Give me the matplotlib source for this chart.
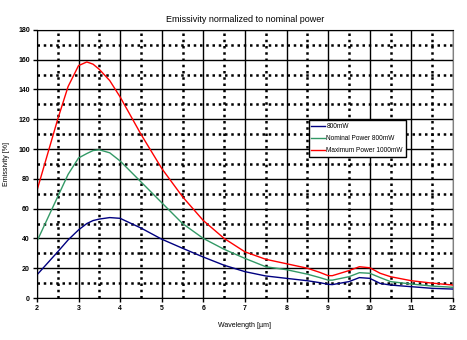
import numpy as np
import matplotlib.pyplot as plt
from matplotlib.ticker import MultipleLocator

plt.rcParams['font.family'] = ['Liberation Sans', 'DejaVu Sans']

# wavelength in um
wavelength = [2, 2.5, 2.75, 3, 3.2, 3.35, 3.5, 3.75, 4, 4.5, 5, 5.5, 6, 6.5, 7, 7.5, 8,
              8.5, 8.8, 9, 9.1, 9.5, 9.75, 10, 10.25, 10.5, 11, 11.5, 12]

# emissivity [%]
p800 = [15.5, 31, 39, 45.7, 50, 52, 53, 54, 53.5, 47, 39.5, 33.4, 27.5, 22, 17.7, 14.8, 13.2,
        11.6, 10.3, 9.2, 9, 11, 13.7, 13.2, 9.8, 8.7, 7.6, 6.5, 6]
nominal800 = [38, 68, 83, 94, 97, 99, 99.5, 97.5, 92, 78, 64, 50, 40, 32.7, 26.6, 21, 19,
              16, 13.7, 12, 12, 14.3, 17, 16.6, 13.7, 11, 9.4, 8, 7.2]
max1000 = [72, 120, 142, 156, 158.5, 157, 153.5, 146, 135, 110, 87, 68, 52, 40, 31, 26, 23,
           20, 17.2, 15, 15, 18.4, 21, 20.3, 16.6, 14.3, 11.6, 10, 8.7]

fig = plt.figure(figsize=(4.67, 3.4), dpi=100)
ax = fig.add_axes([0.079, 0.1235, 0.891, 0.7885])

ax.plot(wavelength, p800, color='#000080', lw=1, label='800mW')
ax.plot(wavelength, nominal800, color='#339966', lw=1, label='Nominal Power 800mW')
ax.plot(wavelength, max1000, color='#ff0000', lw=1, label='Maximum Power 1000mW')

ax.set_xlim(2, 12)
ax.set_ylim(0, 180)
ax.xaxis.set_major_locator(MultipleLocator(1))
ax.xaxis.set_minor_locator(MultipleLocator(0.5))
ax.yaxis.set_major_locator(MultipleLocator(20))
ax.yaxis.set_minor_locator(MultipleLocator(10))

ax.grid(which='major', color='black', lw=1, ls='-')
ax.grid(which='minor', color='black', lw=1.8, ls=(0, (1, 1.5)))
ax.set_axisbelow(True)

ax.tick_params(which='major', labelsize=5, length=3, width=1, direction='out', pad=2)
ax.tick_params(which='minor', length=0)
for lab in ax.get_xticklabels() + ax.get_yticklabels():
    lab.set_fontweight('bold')

for s in ['left', 'bottom', 'top']:
    ax.spines[s].set_color('black')
ax.spines['right'].set_color('#808080')

ax.set_title('Emissivity normalized to nominal power', fontsize=6.5, pad=6)
ax.set_xlabel('Wavelength [µm]', fontsize=5, labelpad=7)
ax.set_ylabel('Emissivity [%]', fontsize=5, labelpad=6)

leg = ax.legend(loc='upper left', bbox_to_anchor=(0.645, 0.675), fontsize=4.7,
                frameon=True, fancybox=False, edgecolor='black', framealpha=1,
                handlelength=2.0, handletextpad=0.3, borderpad=0.45, labelspacing=0.75)
leg.get_frame().set_linewidth(1)

fig.savefig('out.png', dpi=100)
